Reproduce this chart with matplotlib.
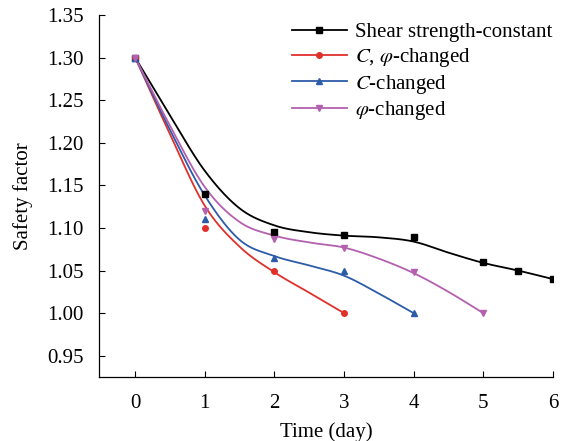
import numpy as np
import matplotlib
matplotlib.use("Agg")
import matplotlib.pyplot as plt
from matplotlib.lines import Line2D

# ----- measured points (markers) -----
x_black = [0, 1, 2, 3, 4, 5, 5.5, 6]
y_black = [1.300, 1.140, 1.095, 1.092, 1.089, 1.060, 1.050, 1.040]
x_red = [0, 1, 2, 3]
y_red = [1.300, 1.100, 1.050, 1.000]
x_blue = [0, 1, 2, 3, 4]
y_blue = [1.300, 1.110, 1.065, 1.050, 1.000]
x_purple = [0, 1, 2, 3, 4, 5]
y_purple = [1.300, 1.120, 1.087, 1.077, 1.048, 1.000]

# ----- smoothed trend curves -----
cx_black = [0, 0.5, 1.0, 1.5, 2.0, 2.5, 3.0, 3.5, 4.0, 4.5, 5.0, 5.5, 6.0]
cy_black = [1.300, 1.232, 1.167, 1.123, 1.103, 1.095, 1.091, 1.089, 1.084, 1.071, 1.059, 1.050, 1.040]
cx_red = [0, 0.5, 1.0, 1.5, 2.0, 2.5, 3.0]
cy_red = [1.300, 1.210, 1.126, 1.078, 1.048, 1.024, 1.000]
cx_blue = [0, 0.5, 1.0, 1.5, 2.0, 2.5, 3.0, 3.5, 4.0]
cy_blue = [1.300, 1.215, 1.138, 1.086, 1.067, 1.056, 1.044, 1.023, 1.000]
cx_purple = [0, 0.5, 1.0, 1.5, 2.0, 2.5, 3.0, 3.5, 4.0, 4.5, 5.0]
cy_purple = [1.300, 1.220, 1.148, 1.107, 1.091, 1.083, 1.077, 1.064, 1.047, 1.025, 1.000]

labels = ["Shear strength-constant", r"$C$, $\varphi$-changed",
          r"$C$-changed", r"$\varphi$-changed"]
colors = ["#000000", "#e0302c", "#2c5ca8", "#b460b0"]
markers = ["s", "o", "^", "v"]


def smooth(xs, ys, n=20):
    """Catmull-Rom spline through the knots."""
    p = np.column_stack([xs, ys]).astype(float)
    p = np.vstack([2 * p[0] - p[1], p, 2 * p[-1] - p[-2]])
    out = []
    t = np.linspace(0, 1, n, endpoint=False)[:, None]
    for i in range(1, len(p) - 2):
        p0, p1, p2, p3 = p[i - 1], p[i], p[i + 1], p[i + 2]
        seg = 0.5 * ((2 * p1) + (-p0 + p2) * t
                     + (2 * p0 - 5 * p1 + 4 * p2 - p3) * t ** 2
                     + (-p0 + 3 * p1 - 3 * p2 + p3) * t ** 3)
        out.append(seg)
    out.append(p[-2][None, :])
    out = np.vstack(out)
    return out[:, 0], out[:, 1]


plt.rcParams.update({
    "font.family": "Liberation Serif",
    "mathtext.fontset": "stix",
    "font.size": 15,
    "axes.spines.top": False,
    "axes.spines.right": False,
})

fig = plt.figure(figsize=(5.71, 4.41), dpi=100)
ax = fig.add_axes([0.1734, 0.145, 0.795, 0.821])

series = [
    (x_black, y_black, cx_black, cy_black),
    (x_red, y_red, cx_red, cy_red),
    (x_blue, y_blue, cx_blue, cy_blue),
    (x_purple, y_purple, cx_purple, cy_purple),
]
for (xs, ys, cxs, cys), c, m in zip(series, colors, markers):
    sx, sy = smooth(cxs, cys)
    ax.plot(sx, sy, color=c, lw=1.3, zorder=2)
    ax.plot(xs, ys, ls="none", marker=m, ms=4, color=c, zorder=3)

ax.set_xlim(-0.52, 6.0)
ax.set_ylim(0.925, 1.35)
ax.set_xticks(range(0, 7))
yt = np.arange(0.95, 1.351, 0.05)
ax.set_yticks(yt)
ax.set_yticklabels([f"{v:.2f}" for v in yt])
ax.tick_params(direction="in", length=4, width=0.8)
ax.tick_params(axis="x", pad=12)
ax.tick_params(axis="y", pad=11)
for s in ["left", "bottom"]:
    ax.spines[s].set_linewidth(0.9)
ax.set_xlabel("Time (day)", labelpad=7)
ax.set_ylabel("Safety factor", labelpad=10)

handles = [Line2D([], [], color=c, marker=m, ms=4, lw=1.3)
           for c, m in zip(colors, markers)]
ax.legend(handles, labels, loc="upper left", bbox_to_anchor=(0.511, 0.949),
          bbox_transform=fig.transFigure, frameon=False, borderpad=0,
          borderaxespad=0, handlelength=2.65, handletextpad=0.4,
          labelspacing=0.18, numpoints=1)

fig.savefig("out.png", dpi=100)
